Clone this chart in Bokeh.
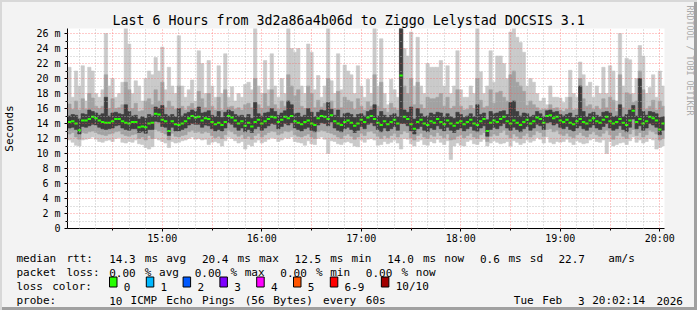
import re
import pandas as pd
from bokeh.plotting import figure
from bokeh.layouts import column
from bokeh.models import (Range1d, FixedTicker, CustomJSTickFormatter, Title)
from bokeh.core.properties import value
from bokeh.embed import file_html
from bokeh.resources import INLINE

# ---------------- data (2-minute steps) ----------------
start_time = "2026-02-03 14:04:00"
n_steps = 180

rtt_max = [
 21.5,17.5,21.0,19.0,21.7,17.0,21.5,21.0,18.0,17.5,
 18.5,26.0,19.0,20.0,17.5,18.0,19.5,26.7,24.6,18.0,
 19.7,19.0,17.0,20.0,21.0,20.5,22.8,21.0,24.2,18.5,
 21.5,19.0,18.0,25.7,19.0,17.5,18.5,19.8,17.0,23.7,
 22.0,18.0,22.4,19.0,17.5,21.7,18.0,23.3,17.5,18.9,
 17.0,18.0,17.5,19.2,19.5,18.5,26.7,19.0,18.0,22.4,
 18.5,23.3,19.0,17.5,20.0,18.0,26.7,24.0,23.5,24.0,
 19.0,18.0,24.6,23.5,18.5,20.4,17.5,19.0,26.7,19.7,
 18.0,23.3,18.5,21.8,21.0,20.5,18.0,21.7,19.0,17.5,
 19.9,18.0,26.7,19.0,25.3,18.0,16.5,19.9,18.5,17.5,
 26.7,24.0,23.0,26.2,19.0,25.5,19.0,18.0,22.0,21.5,
 21.5,21.5,22.4,19.0,21.7,18.0,19.0,23.7,18.5,17.5,
 17.5,19.0,18.0,26.7,20.9,18.0,19.0,23.7,19.5,23.0,
 23.0,22.0,20.0,26.2,26.7,25.5,24.8,23.5,19.0,20.0,
 19.5,18.0,17.0,17.4,16.5,19.0,17.5,17.5,17.4,16.8,
 17.5,21.1,18.0,17.5,22.2,20.5,19.0,19.5,17.5,19.0,
 18.0,21.5,18.0,21.7,21.0,17.0,26.0,19.0,22.7,22.5,
 18.0,20.0,24.4,23.0,18.0,18.8,20.5,17.5,21.0,19.0]

rtt_hi = [
 16.6,15.9,17.0,15.8,17.3,15.9,18.0,17.4,16.3,16.0,
 16.3,20.5,16.0,17.3,16.0,16.1,16.5,19.5,18.5,16.0,
 16.7,15.6,15.7,17.0,17.3,16.5,18.5,17.0,19.5,16.1,
 17.0,16.3,15.9,19.0,16.3,15.8,16.3,16.7,16.0,18.3,
 17.3,16.1,18.0,16.3,15.8,17.5,15.8,18.5,16.2,16.3,
 15.9,16.1,15.8,16.5,16.7,16.1,20.0,16.5,16.0,18.0,
 16.3,18.5,16.5,15.9,17.0,16.3,20.5,19.0,17.7,18.5,
 16.3,16.0,19.0,18.0,16.1,17.1,16.2,16.7,20.0,17.0,
 16.0,18.3,16.1,17.5,17.1,16.9,15.9,17.3,16.3,15.8,
 16.9,16.3,20.5,16.3,19.5,16.0,15.5,16.7,16.1,15.8,
 26.7,19.0,18.0,20.0,16.5,19.5,16.5,16.0,17.5,17.3,
 17.3,17.5,18.0,16.3,17.5,16.0,16.3,18.5,16.3,15.8,
 15.9,16.4,16.0,20.0,17.1,16.1,16.3,18.5,16.7,18.1,
 18.3,17.5,17.0,20.5,21.0,19.5,19.0,18.3,16.4,17.0,
 16.5,16.1,15.8,15.9,15.9,16.5,16.0,16.1,15.8,15.6,
 15.9,17.5,15.8,15.9,20.0,17.3,16.3,16.5,15.9,16.3,
 15.9,17.3,16.1,17.5,17.1,15.6,20.5,16.1,18.1,17.9,
 16.8,17.0,21.0,18.5,15.9,16.3,17.1,15.8,17.0,16.3]

rtt_dark_hi = [
 15.0,15.2,15.1,14.6,15.3,15.2,15.8,15.6,15.4,15.1,
 15.3,17.5,15.0,15.4,15.5,15.3,15.2,16.5,15.6,15.0,
 15.1,14.6,14.9,14.7,15.2,15.0,16.2,16.0,16.4,15.2,
 15.0,15.2,14.9,16.0,15.0,15.3,15.5,15.8,15.6,16.2,
 15.4,15.5,15.7,15.1,14.9,15.6,14.8,15.5,15.8,15.6,
 15.2,15.0,15.1,14.8,15.2,14.7,16.8,15.3,15.0,15.4,
 15.5,16.0,15.6,15.1,15.4,15.7,17.0,16.5,15.3,15.4,
 14.9,15.1,16.0,15.5,14.9,15.5,15.8,15.7,16.8,15.9,
 15.1,15.8,14.8,15.3,15.4,15.2,14.8,15.2,15.3,15.0,
 15.6,15.8,16.5,15.0,15.6,15.1,14.8,15.1,15.3,14.9,
 26.7,15.8,15.5,16.2,14.6,16.0,15.3,14.9,15.0,15.4,
 15.2,15.5,15.4,14.9,15.3,14.9,14.7,15.5,15.2,14.8,
 15.0,15.3,14.9,16.5,15.2,15.4,14.5,15.6,15.3,15.4,
 15.6,15.7,15.2,16.8,17.0,15.6,15.0,15.4,15.3,14.9,
 15.1,15.6,15.3,14.9,15.7,15.8,15.5,15.6,15.2,15.0,
 15.2,15.4,14.8,15.1,19.0,15.6,14.9,15.3,15.5,15.1,
 14.9,15.5,15.6,15.4,14.9,15.0,16.5,14.9,15.2,15.8,
 16.4,15.0,20.0,15.6,15.1,15.6,15.5,15.3,14.8,14.9]

rtt_median = [
 14.2,14.3,14.0,13.1,14.4,14.4,14.6,14.9,14.7,14.4,
 14.2,14.1,14.1,14.3,14.6,14.6,14.3,14.1,14.0,14.2,
 14.2,13.5,13.6,13.5,14.0,14.1,15.3,15.2,14.5,14.3,
 13.0,14.3,13.9,13.8,14.0,14.3,14.7,15.0,14.8,14.9,
 14.4,14.7,14.6,14.2,13.9,14.1,13.8,14.2,15.0,14.8,
 14.4,14.0,14.3,13.7,14.1,13.6,14.2,14.5,14.0,14.3,
 14.6,14.9,14.8,14.2,14.5,14.9,14.7,15.0,14.3,14.1,
 13.9,14.2,14.4,14.0,13.8,14.7,15.0,14.9,14.6,15.1,
 14.3,14.0,13.8,14.2,14.4,14.1,13.7,14.0,14.5,14.2,
 14.8,15.0,14.6,14.1,13.8,14.3,13.9,14.2,14.5,14.0,
 20.4,14.9,14.6,13.9,13.3,14.2,14.5,14.0,13.8,14.3,
 14.1,14.6,14.2,13.9,14.4,14.0,13.7,14.1,14.3,13.9,
 14.2,14.5,14.0,13.8,14.3,14.6,13.0,14.1,14.4,14.2,
 14.6,14.9,14.3,14.0,14.4,14.1,13.8,14.2,14.5,14.0,
 14.3,14.8,14.6,14.1,15.0,15.1,14.7,14.9,14.4,14.2,
 14.5,14.1,13.9,14.3,14.6,14.2,14.0,14.4,14.7,14.3,
 14.1,14.5,14.9,14.3,14.0,14.2,14.6,14.1,13.8,14.4,
 15.7,14.2,14.6,14.0,14.3,14.9,14.7,14.4,13.2,14.0]

rtt_dark_lo = [
 13.4,13.5,13.2,12.6,13.6,13.5,13.7,13.9,13.8,13.5,
 13.3,13.2,13.3,13.4,13.7,13.8,13.4,13.2,13.1,13.3,
 13.3,12.8,12.9,12.7,13.2,13.2,14.3,14.2,13.6,13.5,
 12.4,13.5,13.0,13.0,13.2,13.4,13.8,14.0,13.9,13.9,
 13.5,13.8,13.7,13.3,13.0,13.2,13.0,13.4,14.1,13.9,
 13.5,13.1,13.4,12.9,13.2,12.8,13.3,13.6,13.1,13.4,
 13.7,14.0,13.9,13.3,13.6,14.0,13.8,14.1,13.4,13.2,
 13.0,13.3,13.5,13.1,12.9,13.8,14.1,14.0,13.7,14.2,
 13.4,13.1,12.9,13.3,13.5,13.2,12.8,13.1,13.6,13.3,
 13.9,14.1,13.7,13.2,12.9,13.4,13.0,13.3,13.6,13.1,
 14.0,14.0,13.7,13.0,12.6,13.3,13.6,13.1,12.9,13.4,
 13.2,13.7,13.3,13.0,13.5,13.1,12.8,13.2,13.4,13.0,
 13.3,13.6,13.1,12.9,13.4,13.7,12.3,13.2,13.5,13.3,
 13.7,14.0,13.4,13.1,13.5,13.2,12.9,13.3,13.6,13.1,
 13.4,13.9,13.7,13.2,14.1,14.2,13.8,14.0,13.5,13.3,
 13.6,13.2,13.0,13.4,13.7,13.3,13.1,13.5,13.8,13.4,
 13.2,13.6,14.0,13.4,13.1,13.3,13.7,13.2,12.9,13.5,
 14.6,13.3,13.7,13.1,13.4,14.0,13.8,13.5,12.5,13.1]

rtt_lo = [
 12.6,12.8,12.2,11.9,12.8,12.7,12.9,13.0,12.8,12.6,
 12.5,12.4,12.6,12.7,12.9,13.0,12.6,12.4,12.3,12.5,
 12.6,12.0,12.2,11.8,12.4,12.0,13.2,13.0,12.8,12.6,
 11.8,12.7,12.3,12.2,12.4,12.5,12.9,13.1,12.8,12.9,
 12.7,12.9,12.8,12.4,12.1,12.3,12.0,12.5,13.1,12.9,
 12.6,12.3,12.5,12.0,12.3,11.9,12.4,12.7,12.2,12.5,
 12.8,13.0,12.9,12.5,12.7,13.0,12.9,13.1,12.5,12.3,
 12.2,12.4,12.6,12.2,12.0,12.9,13.1,13.0,12.8,12.7,
 12.5,12.2,12.0,12.4,12.6,12.3,11.9,12.2,12.7,12.4,
 12.9,13.0,12.7,12.3,12.0,12.4,12.1,12.4,12.7,12.2,
 12.6,13.0,12.8,12.1,11.8,12.4,12.7,12.2,12.0,12.5,
 12.3,12.8,12.4,12.1,12.6,11.8,11.9,12.3,12.5,12.1,
 12.4,12.7,12.2,12.0,12.5,12.8,11.6,12.3,12.6,12.4,
 12.8,13.1,12.5,12.1,12.6,12.3,12.0,12.4,12.7,12.2,
 12.5,13.0,12.8,12.3,13.2,13.3,12.9,13.1,12.6,12.4,
 12.7,12.3,12.1,12.5,12.8,12.4,12.2,12.6,12.9,12.5,
 12.3,12.7,13.1,12.5,11.9,12.4,12.8,12.3,12.0,12.6,
 13.2,12.4,12.8,12.2,12.5,13.1,12.9,12.6,11.8,12.0]

rtt_min = [
 11.8,11.5,11.1,11.0,11.8,11.9,12.0,12.2,11.9,11.6,
 11.5,11.7,11.8,11.6,12.0,12.1,11.5,11.4,11.6,11.5,
 11.8,11.3,11.2,10.8,10.6,10.9,12.0,11.8,11.6,11.4,
 10.8,11.6,11.4,11.5,11.7,11.8,12.0,12.2,11.9,12.0,
 11.8,11.9,11.2,11.5,11.6,11.4,11.0,11.7,12.2,12.0,
 11.7,11.4,11.6,10.6,11.2,11.0,11.5,11.8,11.4,11.6,
 11.9,12.1,12.0,11.6,11.8,12.1,12.0,12.2,11.6,11.5,
 11.4,11.1,11.7,11.3,11.2,12.0,12.2,11.9,10.0,11.7,
 11.6,11.3,11.2,11.5,11.6,11.4,11.0,10.9,11.8,11.5,
 11.9,12.0,11.8,11.1,11.2,11.6,11.3,11.5,11.8,11.4,
 10.6,12.0,11.9,11.3,11.0,11.6,11.8,11.2,11.1,11.6,
 11.4,11.9,11.5,11.2,11.7,9.2,11.0,11.4,11.1,11.0,
 11.6,11.8,11.3,11.2,11.6,11.9,11.0,11.4,11.7,11.5,
 11.3,11.4,11.6,11.0,11.7,11.5,11.2,11.4,11.8,11.5,
 11.7,12.1,11.9,11.4,12.2,11.5,11.3,11.6,11.5,11.6,
 11.9,11.5,11.2,11.7,11.5,11.3,11.4,11.8,12.0,11.6,
 11.5,11.8,10.0,11.6,11.0,11.2,11.4,11.5,11.2,11.7,
 12.2,11.5,11.8,11.4,11.6,12.0,11.8,10.6,10.8,11.0]

# legend statistics
rtt_stat_values = [14.3, 20.4, 12.5, 14.0, 0.6]
rtt_stat_names = ["avg", "max", "min", "now", "sd"]
am_per_s = 22.7
loss_stat_values = [0.00, 0.00, 0.00, 0.00]
loss_stat_names = ["avg", "max", "min", "now"]
loss_labels = ["0", "1", "2", "3", "4", "5", "6-9", "10/10"]
loss_colors = ["#26ff00", "#00b8ff", "#0059ff", "#7e00ff", "#ff00ff",
               "#ff5500", "#ff0000", "#a10000"]
y_ticks = list(range(0, 27, 2))
y_minor = list(range(1, 27, 2))

title = "Last 6 Hours from 3d2a86a4b06d to Ziggo Lelystad DOCSIS 3.1"
probe_text = "10 ICMP Echo Pings (56 Bytes) every 60s"
stamp_text = "Tue Feb  3 20:02:14 2026"

# ---------------- main chart ----------------
FONT = "DejaVu Sans Mono"
BG = "#f3f3f3"
H_TOP = 246          # canvas height of the chart part

times = pd.date_range(start_time, periods=n_steps, freq="2min")
step_ms = 120000

def ms(ts):
    return pd.Timestamp(ts).value // 10**6

x0 = pd.Timestamp("2026-02-03 14:02:50")
x1 = pd.Timestamp("2026-02-03 20:02:50")

p = figure(width=697, height=H_TOP, x_axis_type="datetime",
           x_range=Range1d(x0, x1), y_range=Range1d(0, 26.67),
           output_backend="svg", toolbar_location=None,
           min_border_left=67, min_border_right=30,
           min_border_top=28, min_border_bottom=H_TOP - 228,
           background_fill_color="#ffffff", border_fill_alpha=0.0)
p.outline_line_color = None
p.frame_align = False

p.vbar(x=times, width=step_ms, bottom=rtt_min, top=rtt_max,
       fill_color="#cacaca", line_color="#cacaca", line_width=0.6)
p.vbar(x=times, width=step_ms, bottom=rtt_lo, top=rtt_hi,
       fill_color="#a2a2a2", line_color="#a2a2a2", line_width=0.6)
p.vbar(x=times, width=step_ms, bottom=rtt_dark_lo, top=rtt_dark_hi,
       fill_color="#3e3e3e", line_color="#3e3e3e", line_width=0.6)
p.rect(x=times, y=rtt_median, width=step_ms, height=2, height_units="screen",
       fill_color="#26ff00", line_color=None)

day = "2026-02-03 "
hour_ms = [ms(day + "%02d:00" % h) for h in range(15, 21)]
half_ms = [ms(day + "14:30") + k * 1800000 for k in range(12)]
ten_ms = [ms(day + "14:10") + k * 600000 for k in range(36)]
ten_ms = [t for t in ten_ms if t not in half_ms]

p.xaxis.ticker = FixedTicker(ticks=hour_ms, minor_ticks=half_ms)
p.xgrid.ticker = FixedTicker(ticks=half_ms, minor_ticks=ten_ms)
p.yaxis.ticker = FixedTicker(ticks=y_ticks, minor_ticks=y_minor)
p.ygrid.ticker = FixedTicker(ticks=y_ticks, minor_ticks=y_minor)

p.xaxis.formatter = CustomJSTickFormatter(code="""
const d = new Date(tick);
return String(d.getUTCHours()).padStart(2,'0') + ':' + String(d.getUTCMinutes()).padStart(2,'0');
""")
p.yaxis.formatter = CustomJSTickFormatter(code="return tick == 0 ? '0' : tick.toFixed(0) + ' m';")

for g in (p.xgrid[0], p.ygrid[0]):
    g.grid_line_color = "#ff5050"
    g.grid_line_alpha = 0.6
    g.grid_line_dash = "1 2"
    g.minor_grid_line_color = "#b4b4b4"
    g.minor_grid_line_alpha = 0.8
    g.minor_grid_line_dash = "1 2"
    g.level = "overlay"

for ax in (p.xaxis[0], p.yaxis[0]):
    ax.axis_line_color = "#000000"
    ax.major_tick_line_color = "#000000"
    ax.minor_tick_line_color = "#000000"
    ax.major_tick_in = 0
    ax.major_tick_out = 3
    ax.minor_tick_in = 0
    ax.minor_tick_out = 2
    ax.major_label_text_font = FONT
    ax.major_label_text_font_size = "10px"
    ax.major_label_text_color = "#000000"
p.xaxis.major_label_standoff = 1
p.yaxis.major_label_standoff = 4
p.yaxis.axis_label = "Seconds"
p.yaxis.axis_label_text_font = FONT
p.yaxis.axis_label_text_font_size = "11px"
p.yaxis.axis_label_text_font_style = "normal"
p.yaxis.axis_label_text_color = "#000000"
p.yaxis.axis_label_standoff = 17

p.add_layout(Title(text=title, text_font=FONT, text_font_size="13.3px",
                   text_font_style="normal", text_color="#000000",
                   align="left", offset=45, standoff=2, vertical_align="bottom"), "above")
# spacer, then the vertical credit text on the right
p.add_layout(Title(text=" ", text_font=FONT, text_font_size="1px",
                   text_font_style="normal", standoff=16), "right")
p.add_layout(Title(text="RRDTOOL / TOBI OETIKER", text_font=FONT, text_font_size="8.3px",
                   text_font_style="normal", text_color="#aaaaaa",
                   align="left", offset=-23, standoff=2), "right")

# ---------------- legend part (canvas pixel coordinates) ----------------
ADV = 7.13
lg = figure(width=697, height=310 - H_TOP, x_range=Range1d(0, 697),
            y_range=Range1d(310, H_TOP), output_backend="svg", toolbar_location=None,
            x_axis_location=None, y_axis_location=None,
            min_border_left=0, min_border_right=0, min_border_top=0, min_border_bottom=0,
            background_fill_alpha=0.0, border_fill_alpha=0.0)
lg.outline_line_color = None
lg.grid.visible = False
lg.frame_align = False

line1 = "median rtt:  " + "  ".join("%.1f ms %s" % (v, n) for v, n in
                                    zip(rtt_stat_values, rtt_stat_names)) + \
        "  %.1f   am/s" % am_per_s
line2 = "packet loss: " + "  ".join("%.2f %% %s" % (v, n) for v, n in
                                    zip(loss_stat_values, loss_stat_names))

tx, ty, tt = [], [], []
def words(line, x, y):
    for m in re.finditer(r"\S+", line):
        tx.append(x + m.start() * ADV)
        ty.append(y)
        tt.append(m.group())

words(line1, 16, 258)
words(line2, 16, 272)
words("loss color:", 16, 286)
words("probe:       " + probe_text, 16, 300)
words(stamp_text, 513.3, 300)

sq_left, sq_right = [], []
sx = 109.0
for lab in loss_labels:
    sq_left.append(sx)
    sq_right.append(sx + 7.5)
    tx.append(sx + 14.3)
    ty.append(286)
    tt.append(lab)
    sx += 36.8 + ADV * (len(lab) - 1)

lg.quad(left=sq_left, right=sq_right, top=[276.5] * len(loss_labels),
        bottom=[286.5] * len(loss_labels), fill_color=loss_colors,
        line_color="#000000", line_width=1)
lg.text(x=tx, y=ty, text=tt, text_font=value(FONT), text_font_size=value("11px"),
        text_align="left", text_baseline="alphabetic", text_color="#000000")

page = column(p, lg, spacing=0,
              styles={"background-color": BG,
                      "box-shadow": "inset 2px 2px 0 0 #d8d8d8, inset -3px -3px 0 0 #a0a0a0"})

open("out.html", "w").write(file_html(page, INLINE))
